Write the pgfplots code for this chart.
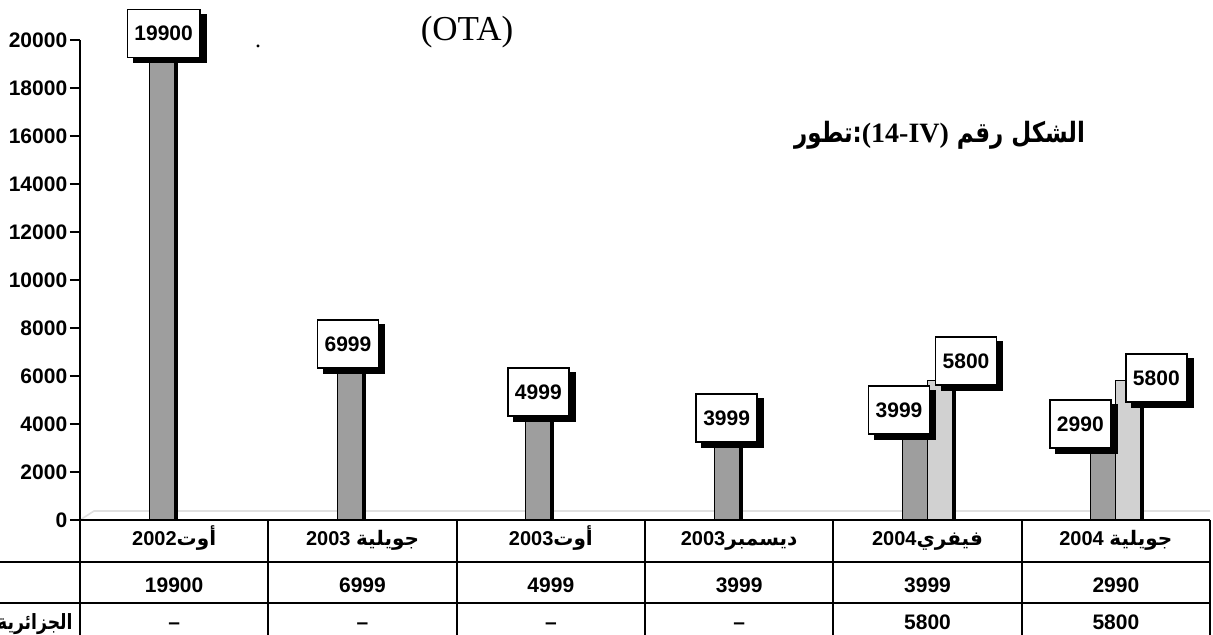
\documentclass[border=0pt]{standalone}
\usepackage{fontspec}
\setmainfont{Liberation Sans}
\newfontfamily\ar[Script=Arabic]{DejaVu Sans}
\newfontfamily\arn[Script=Arabic, FakeStretch=0.82]{DejaVu Sans}
\newfontfamily\tnr{Liberation Serif}
\TeXXeTstate=1
\usepackage{pgfplots}
\pgfplotsset{compat=1.18}
\usepackage{pgfplotstable}
\usetikzlibrary{shadows}

\pgfplotstableread{
x y dx dy
0 19900 1 4.5
1 6999 -1 4
2 4999 0 4
3 3999 0 3
4 3999 -8 7
5 2990 -11.5 12
}\dataA
\pgfplotstableread{
x y dx dy
4 5800 13 10
5 5800 14 1.5
}\dataB

\begin{document}
\begin{tikzpicture}
\useasboundingbox (-40pt,-57.5pt) rectangle (566.5pt,260pt);
\draw[black!12, line width=0.8pt] (0,0) -- (7pt,4.5pt) -- (565pt,4.5pt);
\begin{axis}[at={(0,0)}, anchor=south west, scale only axis,
  width=565pt, height=240pt,
  xmin=-0.5, xmax=5.5, ymin=0, ymax=20000, clip=false,
  axis x line*=bottom, axis y line*=left,
  axis line style={line width=1pt,-},
  xtick=\empty, ytick={0,2000,...,20000},
  tick align=outside, major tick length=5pt,
  ytick style={line width=0.8pt, black},
  scaled y ticks=false,
  /pgf/number format/1000 sep={},
  /pgf/number format/assume math mode=true,
  yticklabel style={font=\bfseries\fontsize{10.5}{12}\selectfont, inner xsep=1.2pt},
  ybar=0pt, bar width=12.5pt,
  nodes near coords,
  nodes near coords style={anchor=center, draw=black, line width=0.8pt, fill=white,
    font=\bfseries\fontsize{10.5}{12}\selectfont, inner xsep=3.5pt,
    minimum width=30.5pt, minimum height=24pt,
    xshift=\lx pt, yshift=\ly pt,
    drop shadow={shadow xshift=3pt, shadow yshift=-2.5pt, opacity=1, fill=black}},
]
\addplot[fill=black!38, draw=black, line width=0.5pt,
  preaction={fill=black, transform canvas={xshift=1.5pt}},
  visualization depends on={\thisrow{dx} \as \lx},
  visualization depends on={\thisrow{dy} \as \ly}]
  table[x=x,y=y] {\dataA};
\addplot[fill=black!18, draw=black, line width=0.5pt,
  preaction={fill=black, transform canvas={xshift=1.5pt}},
  visualization depends on={\thisrow{dx} \as \lx},
  visualization depends on={\thisrow{dy} \as \ly}]
  table[x=x,y=y] {\dataB};
\end{axis}
% data table below the axis
\draw[line width=1pt] (0,0) -- (0,-57.5pt);
\foreach \i in {1,...,6} \draw[line width=1pt] ({\i*94.1667pt},0) -- ({\i*94.1667pt},-57.5pt);
\draw[line width=1pt] (-40pt,-21pt) -- (565pt,-21pt);
\draw[line width=1pt] (-40pt,-41.5pt) -- (565pt,-41.5pt);
\begin{scope}[every node/.style={anchor=base, font=\bfseries\fontsize{10}{12}\selectfont}]
\node at (47.08pt,-13pt) {\beginR{\ar أوت}\beginL 2002\endL\endR};
\node at (141.25pt,-13pt) {\beginR{\ar جويلية} \beginL 2003\endL\endR};
\node at (235.42pt,-13pt) {\beginR{\ar أوت}\beginL 2003\endL\endR};
\node at (329.58pt,-13pt) {\beginR{\ar ديسمبر}\beginL 2003\endL\endR};
\node at (423.75pt,-13pt) {\beginR{\ar فيفري}\beginL 2004\endL\endR};
\node at (517.92pt,-13pt) {\beginR{\ar جويلية} \beginL 2004\endL\endR};
\end{scope}
\begin{scope}[every node/.style={anchor=base, font=\bfseries\fontsize{10.5}{12}\selectfont}]
\node at (47.08pt,-36.3pt) {19900};
\node at (141.25pt,-36.3pt) {6999};
\node at (235.42pt,-36.3pt) {4999};
\node at (329.58pt,-36.3pt) {3999};
\node at (423.75pt,-36.3pt) {3999};
\node at (517.92pt,-36.3pt) {2990};
\node at (47.08pt,-55pt) {–};
\node at (141.25pt,-55pt) {–};
\node at (235.42pt,-55pt) {–};
\node at (329.58pt,-55pt) {–};
\node at (423.75pt,-55pt) {5800};
\node at (517.92pt,-55pt) {5800};
\end{scope}
\node[anchor=base east, inner xsep=0pt, font=\bfseries\fontsize{10.5}{12}\selectfont] at (-3.5pt,-55pt) {\arn\beginR الجزائرية\endR};
% titles
\node[font=\tnr\fontsize{17.5}{20}\selectfont] at (193.5pt,244pt) {(OTA)};
\node[font=\tnr\fontsize{12}{14}\selectfont, anchor=base] at (89pt,236pt) {.};
\node[anchor=east, font=\bfseries\fontsize{14}{16}\selectfont] at (506pt,192.5pt)
  {\beginR{\arn الشكل رقم }\beginL{\tnr (14-IV)}\endL{\arn :تطور}\endR};
\end{tikzpicture}
\end{document}
